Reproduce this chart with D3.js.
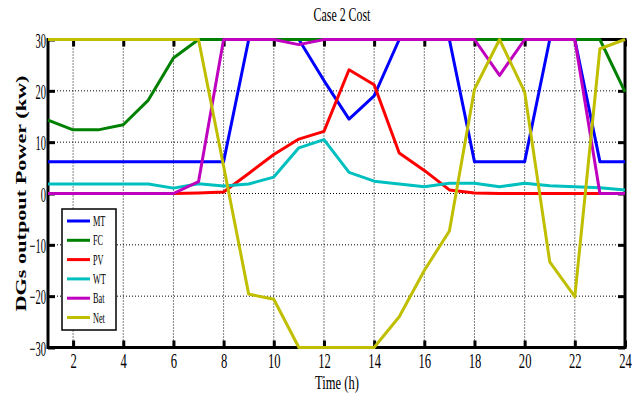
<!DOCTYPE html>
<html>
<head>
<meta charset="utf-8">
<script src="https://cdn.jsdelivr.net/npm/d3@7"></script>
<style>
  body { margin: 0; background: #fff; }
  text { font-family: "Liberation Serif", "DejaVu Serif", serif; }
</style>
</head>
<body>
<script>
// hours and series values
const hours = d3.range(1, 25);
const MT  = [6.2, 6.2, 6.2, 6.2, 6.2, 6.2, 6.2, 6.2, 30, 30, 30, 22, 14.5, 19, 30, 30, 30, 6.2, 6.2, 6.2, 30, 30, 6.2, 6.2];
const FC  = [14.3, 12.4, 12.4, 13.4, 18.2, 26.4, 30, 30, 30, 30, 30, 30, 30, 30, 30, 30, 30, 30, 30, 30, 30, 30, 30, 19.8];
const PV  = [0, 0, 0, 0, 0, 0, 0.1, 0.3, 3.9, 7.6, 10.6, 12.1, 24.1, 21.2, 7.9, 4.5, 0.7, 0.1, 0, 0, 0, 0, 0, 0];
const WT  = [1.85, 1.85, 1.85, 1.85, 1.85, 1.05, 1.9, 1.45, 1.85, 3.2, 8.9, 10.5, 4.1, 2.4, 1.85, 1.3, 2.0, 2.0, 1.3, 2.0, 1.5, 1.3, 1.1, 0.7];
const Bat = [0, 0, 0, 0, 0, 0, 2.3, 30, 30, 30, 29, 30, 30, 30, 30, 30, 30, 30, 23, 30, 30, 30, 0, 0];
const Net = [30, 30, 30, 30, 30, 30, 30, 5.3, -19.6, -20.6, -30, -30, -30, -30, -24, -15, -7.3, 20.3, 30, 19.8, -13.3, -20.1, 28.2, 30];

const seriesNames = ['MT', 'FC', 'PV', 'WT', 'Bat', 'Net'];
const seriesData = [MT, FC, PV, WT, Bat, Net];
const seriesColors = ['#0000ff', '#008000', '#ff0000', '#00bfbf', '#bf00bf', '#bfbf00'];

const xTicks = d3.range(2, 25, 2);
const yTicks = [-30, -20, -10, 0, 10, 20, 30];

const W = 642, H = 398;
const margin = { top: 39.5, right: 17, bottom: 50.5, left: 48 };
const width = W - margin.left - margin.right;
const height = H - margin.top - margin.bottom;

// the original picture is stretched vertically, so text looks narrow
function squeeze(sel, factor) {
    sel.each(function () {
        const len = this.getComputedTextLength();
        d3.select(this)
            .attr('textLength', len * factor)
            .attr('lengthAdjust', 'spacingAndGlyphs');
    });
}

const svg = d3.select('body').append('svg')
    .attr('width', W)
    .attr('height', H);

const g = svg.append('g')
    .attr('transform', `translate(${margin.left},${margin.top})`);

const x = d3.scaleLinear().domain([1, 24]).range([0, width]);
const y = d3.scaleLinear().domain([-30, 30]).range([height, 0]);

// dotted grid
g.append('g').selectAll('line')
    .data(xTicks.slice(0, -1))
    .enter().append('line')
    .attr('x1', d => x(d)).attr('x2', d => x(d))
    .attr('y1', 0).attr('y2', height)
    .attr('stroke', '#000').attr('stroke-width', 1)
    .attr('stroke-dasharray', '1,2');

g.append('g').selectAll('line')
    .data(yTicks.slice(1, -1))
    .enter().append('line')
    .attr('x1', 0).attr('x2', width)
    .attr('y1', d => y(d)).attr('y2', d => y(d))
    .attr('stroke', '#000').attr('stroke-width', 1)
    .attr('stroke-dasharray', '1,2');

// axes with inward ticks
const axisStyle = sel => {
    sel.select('.domain').remove();
    sel.selectAll('.tick line').attr('stroke', '#000').attr('stroke-width', 3);
    sel.selectAll('text')
        .style('font-family', '"Liberation Serif", serif')
        .style('font-size', '21px')
        .attr('fill', '#000');
};

const xAxis = g.append('g')
    .attr('transform', `translate(0,${height})`)
    .call(d3.axisBottom(x).tickValues(xTicks).tickSize(-7).tickPadding(6).tickFormat(d3.format('d')))
    .call(axisStyle);
xAxis.selectAll('text').call(squeeze, 0.6);

g.append('g')
    .call(d3.axisTop(x).tickValues(xTicks).tickSize(-7).tickFormat(''))
    .call(axisStyle);

const yAxis = g.append('g')
    .call(d3.axisLeft(y).tickValues(yTicks).tickSize(-7).tickPadding(2).tickFormat(d3.format('d')))
    .call(axisStyle);
yAxis.selectAll('text').attr('dy', '0.36em').call(squeeze, 0.5);

g.append('g')
    .attr('transform', `translate(${width},0)`)
    .call(d3.axisRight(y).tickValues(yTicks).tickSize(-7).tickFormat(''))
    .call(axisStyle);

// frame
g.append('rect')
    .attr('width', width).attr('height', height)
    .attr('fill', 'none')
    .attr('stroke', '#000')
    .attr('stroke-width', 3);

// series lines (on top of the frame, as in the original)
const line = d3.line()
    .x((d, i) => x(hours[i]))
    .y(d => y(d));

seriesData.forEach((s, k) => {
    g.append('path')
        .datum(s)
        .attr('d', line)
        .attr('fill', 'none')
        .attr('stroke', seriesColors[k])
        .attr('stroke-width', 3)
        .attr('stroke-linejoin', 'round');
});

// title and labels
svg.append('text')
    .attr('x', 342).attr('y', 21)
    .attr('text-anchor', 'middle')
    .style('font-size', '18px')
    .text('Case 2 Cost')
    .call(squeeze, 0.66);

svg.append('text')
    .attr('x', 337).attr('y', 389)
    .attr('text-anchor', 'middle')
    .style('font-size', '19px')
    .text('Time (h)')
    .call(squeeze, 0.66);

svg.append('text')
    .attr('transform', `translate(26,${margin.top + height / 2}) rotate(-90)`)
    .attr('text-anchor', 'middle')
    .style('font-size', '15px')
    .style('font-weight', 'bold')
    .attr('textLength', 236)
    .attr('lengthAdjust', 'spacingAndGlyphs')
    .text('DGs outpout Power (kw)');

// legend
const legend = svg.append('g').attr('transform', 'translate(62,209)');
legend.append('rect')
    .attr('width', 54).attr('height', 121)
    .attr('fill', '#fff')
    .attr('stroke', '#000').attr('stroke-width', 1.5);

seriesNames.forEach((name, k) => {
    const ly = 12 + k * 19.3;
    legend.append('line')
        .attr('x1', 5).attr('x2', 28)
        .attr('y1', ly).attr('y2', ly)
        .attr('stroke', seriesColors[k])
        .attr('stroke-width', 3);
    legend.append('text')
        .attr('x', 31).attr('y', ly + 5)
        .style('font-size', '15px')
        .text(name)
        .call(squeeze, 0.55);
});
</script>
</body>
</html>
